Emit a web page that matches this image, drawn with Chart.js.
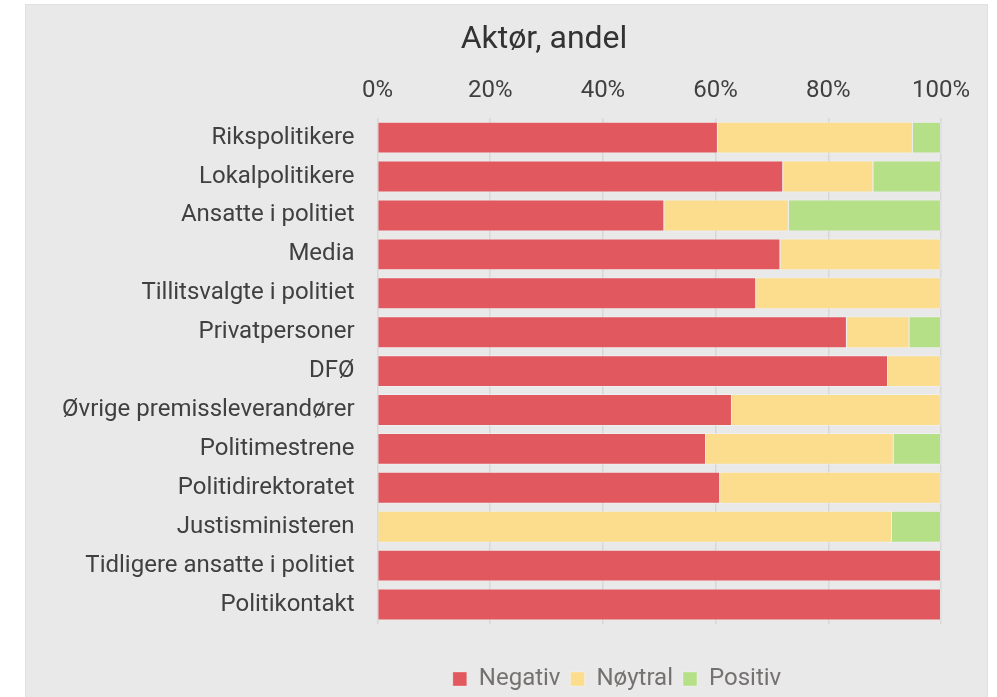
<!DOCTYPE html>
<html>
<head>
<meta charset="utf-8">
<script src="https://cdn.jsdelivr.net/npm/chart.js@4.4.1/dist/chart.umd.min.js"></script>
<style>
  body { margin: 0; background: #ffffff; }
  #wrap {
    position: absolute; left: 26px; top: 5px;
    width: 961px; height: 692px;
    background: #e8e9e8;
    box-shadow: 0 0 0 1px #dfe0df;
  }
</style>
</head>
<body>
<div id="wrap"><canvas id="chart"></canvas></div>
<script>
// Aktør-kategorier (ovenfra og ned)
var actors = [
	'Rikspolitikere',
	'Lokalpolitikere',
	'Ansatte i politiet',
	'Media',
	'Tillitsvalgte i politiet',
	'Privatpersoner',
	'DFØ',
	'Øvrige premissleverandører',
	'Politimestrene',
	'Politidirektoratet',
	'Justisministeren',
	'Tidligere ansatte i politiet',
	'Politikontakt'
];

// Andel i prosent
var negativ = [60.4, 72, 50.9, 71.5, 67.2, 83.3, 90.6, 62.9, 58.3, 60.8, 0, 100, 100];
var noytral = [34.6, 16, 22.1, 28.5, 32.8, 11.1, 9.4, 37.1, 33.3, 39.2, 91.3, 0, 0];
var positiv = [5, 12, 27, 0, 0, 5.6, 0, 0, 8.4, 0, 8.7, 0, 0];

var xTicks = [0, 20, 40, 60, 80, 100];

// title/legend are not centred on the canvas in the original, so move them
var titleCenterX = 518;
var legendCenterX = 591;
var legendCenterY = 674;

var shiftBoxes = {
	id: 'shiftBoxes',
	afterLayout: function(chart) {
		var t = chart.titleBlock;
		if (t) {
			var d = titleCenterX - (t.left + t.right) / 2;
			t.left += d; t.right += d;
		}
		var l = chart.legend;
		if (l) {
			var dx = legendCenterX - (l.left + l.right) / 2;
			var dy = legendCenterY - (l.top + l.bottom) / 2;
			l.left += dx; l.right += dx;
			l.top += dy; l.bottom += dy;
		}
	}
};

var ctx = document.getElementById('chart');
new Chart(ctx, {
	type: 'bar',
	data: {
		labels: actors,
		datasets: [
			{ label: 'Negativ', data: negativ, backgroundColor: '#e1585f', borderColor: 'rgba(255,255,255,0.3)', borderWidth: 1 },
			{ label: 'Nøytral', data: noytral, backgroundColor: '#fbdd8d', borderColor: 'rgba(255,255,255,0.3)', borderWidth: 1 },
			{ label: 'Positiv', data: positiv, backgroundColor: '#b6e088', borderColor: 'rgba(255,255,255,0.3)', borderWidth: 1 }
		]
	},
	options: {
		indexAxis: 'y',
		responsive: true,
		maintainAspectRatio: false,
		animation: false,
		barPercentage: 0.82,
		categoryPercentage: 1,
		layout: {
			padding: { left: 13, right: 46, top: 0, bottom: 29 }
		},
		scales: {
			x: {
				position: 'top',
				stacked: true,
				min: 0,
				max: 100,
				afterBuildTicks: function(axis) {
					axis.ticks = xTicks.map(function(v) { return { value: v }; });
				},
				ticks: {
					padding: 13,
					color: '#404040',
					font: { family: 'Roboto', size: 24 },
					callback: function(v) { return v + '%'; }
				},
				grid: { color: '#d6d7d6', lineWidth: 1.5, drawTicks: false },
				border: { display: false }
			},
			y: {
				stacked: true,
				ticks: {
					padding: 23,
					color: '#404040',
					font: { family: 'Roboto', size: 24 }
				},
				grid: { display: false, drawTicks: false },
				border: { display: false }
			}
		},
		plugins: {
			title: {
				display: true,
				text: 'Aktør, andel',
				color: '#333333',
				font: { family: 'Roboto', size: 32, weight: 'normal' },
				padding: { top: 16, bottom: 4 }
			},
			legend: {
				position: 'bottom',
				labels: {
					color: '#767171',
					font: { family: 'Roboto', size: 24 },
					boxWidth: 14,
					boxHeight: 14,
					padding: 10
				}
			},
			tooltip: { enabled: false }
		}
	},
	plugins: [shiftBoxes]
});
</script>
</body>
</html>
